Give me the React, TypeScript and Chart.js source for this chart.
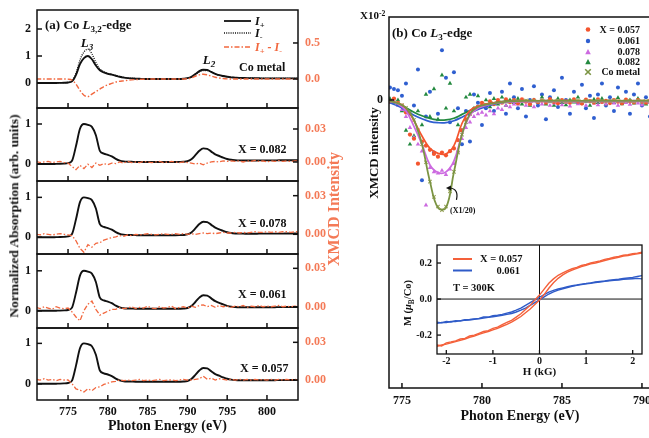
import React, { useEffect, useRef } from "react";
import { Chart, registerables } from "chart.js";

Chart.register(...registerables);

const SERIF = '"Liberation Serif", "Times New Roman", "DejaVu Serif", serif';
const BLACK = "#111111";
const ORANGE = "#f2683f";
const ORANGE_TXT = "#f47a57";
const C57 = "#f4552e";
const C61 = "#2f5fd0";
const C78 = "#cc6ae0";
const C82 = "#23893f";
const COMETAL = "#9aa45a";
const COFIT = "#7b9443";
const INSET_OR = "#f4603a";
const INSET_BL = "#2f5bc8";

// ---------------- data: left panels (a) ----------------
const energyLeft = [771, 771.5, 772, 772.5, 773, 773.5, 774, 774.5, 775, 775.5, 776, 776.5, 777, 777.5, 778, 778.5, 779, 779.5, 780, 780.5, 781, 781.5, 782, 782.5, 783, 783.5, 784, 784.5, 785, 785.5, 786, 786.5, 787, 787.5, 788, 788.5, 789, 789.5, 790, 790.5, 791, 791.5, 792, 792.5, 793, 793.5, 794, 794.5, 795, 795.5, 796, 796.5, 797, 797.5, 798, 798.5, 799, 799.5, 800, 800.5, 801, 801.5, 802, 802.5, 803, 803.5, 804];

const coIplus = [0, 0, 0, 0, 0, 0, 0.005, 0.01, 0.02, 0.06,
  0.3, 0.7, 0.92, 1.0, 0.88, 0.65, 0.47, 0.39, 0.34, 0.31,
  0.27, 0.23, 0.2, 0.18, 0.17, 0.16, 0.155, 0.15, 0.15, 0.15,
  0.15, 0.15, 0.15, 0.15, 0.15, 0.15, 0.15, 0.16, 0.18, 0.23,
  0.33, 0.44, 0.49, 0.48, 0.41, 0.34, 0.29, 0.26, 0.23, 0.21,
  0.2, 0.19, 0.185, 0.18, 0.18, 0.175, 0.175, 0.17, 0.17, 0.17,
  0.17, 0.17, 0.17, 0.17, 0.17, 0.17, 0.17];

const coIminus = [0, 0, 0, 0, 0, 0, 0.005, 0.01, 0.02, 0.07,
  0.36, 0.85, 1.15, 1.25, 1.08, 0.76, 0.52, 0.42, 0.36, 0.32,
  0.28, 0.24, 0.21, 0.19, 0.175, 0.165, 0.158, 0.153, 0.15, 0.15,
  0.15, 0.15, 0.15, 0.15, 0.15, 0.15, 0.15, 0.16, 0.18, 0.22,
  0.31, 0.41, 0.46, 0.46, 0.4, 0.34, 0.29, 0.26, 0.23, 0.21,
  0.2, 0.19, 0.185, 0.18, 0.18, 0.175, 0.175, 0.17, 0.17, 0.17,
  0.17, 0.17, 0.17, 0.17, 0.17, 0.17, 0.17];

const coXmcd = [0, 0, 0, 0, 0, 0, 0, 0, -0.002, -0.015,
  -0.07, -0.16, -0.225, -0.245, -0.21, -0.175, -0.14, -0.105, -0.08, -0.062,
  -0.042, -0.032, -0.026, -0.018, -0.012, -0.008, -0.005, -0.003, -0.001, 0,
  0, 0, 0, 0, 0, 0, 0, 0, 0.004, 0.015,
  0.038, 0.058, 0.066, 0.058, 0.04, 0.024, 0.013, 0.006, 0.002, 0,
  0, 0, 0, 0, 0, 0, 0, 0, 0, 0,
  0, 0, 0, 0, 0, 0, 0];

const absDoped = [0, 0, 0, 0, 0, 0.003, 0.005, 0.01, 0.02, 0.08,
  0.45, 0.88, 1.0, 0.98, 0.93, 0.72, 0.33, 0.26, 0.23, 0.19,
  0.13, 0.085, 0.065, 0.058, 0.055, 0.052, 0.05, 0.05, 0.05, 0.05,
  0.05, 0.05, 0.05, 0.05, 0.05, 0.05, 0.052, 0.056, 0.07, 0.12,
  0.22, 0.33, 0.39, 0.38, 0.31, 0.24, 0.2, 0.16, 0.125, 0.105,
  0.095, 0.09, 0.09, 0.088, 0.088, 0.088, 0.09, 0.09, 0.09, 0.09,
  0.09, 0.092, 0.092, 0.094, 0.094, 0.095, 0.095];

const xmcd082 = [0.0005, -0.0005, 0.0, 0.0005, -0.0005, 0.0, 0.0005, -0.0005, -0.001, -0.004,
  -0.007, -0.003, -0.006, -0.002, -0.005, -0.001, -0.003, -0.0015, -0.0025, -0.001,
  -0.0015, 0.0, -0.001, 0.0005, -0.0005, 0.0, -0.0005, 0.0005, 0.0, -0.0005,
  0.0, 0.0005, -0.0005, 0.0, 0.0005, 0.0, -0.0005, 0.0, -0.0005, -0.001,
  -0.002, -0.001, -0.0025, -0.001, 0.0, 0.0005, 0.0, 0.001, 0.0005, 0.001,
  0.0005, 0.001, 0.0, 0.001, 0.0005, 0.0015, 0.0005, 0.001, 0.0, 0.001,
  0.0005, 0.0015, 0.0005, 0.001, 0.0005, 0.001, 0.001];

const xmcd078 = [0.0, -0.0005, 0.0005, 0.0, -0.0005, 0.0, 0.0005, 0.0, -0.0005, -0.001,
  -0.005, -0.011, -0.014, -0.008, -0.01, -0.007, -0.0065, -0.0045, -0.0035, -0.0025,
  -0.002, -0.001, -0.0015, -0.0005, -0.001, 0.0, -0.0005, 0.0, 0.0005, 0.0,
  -0.0005, 0.0, 0.0005, 0.0, 0.0, 0.0005, 0.0, 0.0005, 0.0, 0.0005,
  0.0, 0.0005, 0.001, 0.0005, 0.001, 0.0005, 0.001, 0.0015, 0.001, 0.001,
  0.0015, 0.001, 0.0015, 0.001, 0.0015, 0.002, 0.0015, 0.0015, 0.002, 0.0015,
  0.002, 0.0015, 0.002, 0.002, 0.0015, 0.002, 0.002];

const xmcd061 = [-0.0005, -0.0015, 0.0, -0.001, -0.002, 0.0, -0.001, -0.0015, -0.001, -0.004,
  -0.008, -0.011, -0.003, 0.002, 0.0045, -0.002, -0.0065, -0.005, -0.0035, -0.002,
  -0.002, -0.0005, -0.0015, -0.001, 0.0, -0.0015, -0.0005, -0.001, 0.0005, -0.001,
  -0.0015, 0.0, -0.001, -0.0005, 0.0005, -0.0015, -0.0005, 0.0, -0.001, 0.0005,
  -0.0005, 0.001, 0.0015, 0.0, 0.001, -0.0005, 0.001, 0.0, 0.0005, -0.0005,
  0.0005, 0.0, 0.001, -0.0005, 0.0005, 0.0, 0.001, 0.0, 0.0005, 0.0,
  0.0005, 0.001, 0.0, 0.0005, 0.0, 0.0005, 0.0];

const xmcd057 = [0.0005, 0.0, 0.001, 0.0, 0.0005, -0.0005, 0.0005, 0.0, 0.0, -0.003,
  -0.007, -0.008, -0.0095, -0.007, -0.0085, -0.006, -0.0055, -0.0035, -0.0025, -0.0015,
  -0.001, 0.0, -0.0005, 0.0, -0.0005, 0.0, 0.0005, -0.0005, 0.0, -0.0005,
  0.0, 0.0005, -0.0005, 0.0, 0.0, -0.0005, 0.0, 0.0005, 0.0, 0.0,
  0.0005, 0.001, 0.003, 0.0005, 0.0015, 0.0, 0.001, 0.0005, 0.0, 0.0005,
  0.0, 0.0005, 0.0, 0.0005, 0.0, 0.0005, 0.0, 0.0005, 0.0, 0.0005,
  0.0, 0.0005, 0.0, 0.0005, 0.0, 0.0005, 0.0];

const xmcdDoped = [xmcd082, xmcd078, xmcd061, xmcd057];
const dopedLabels = ["X = 0.082", "X = 0.078", "X = 0.061", "X = 0.057"];

const leftXTicks = [775, 780, 785, 790, 795, 800];
const leftXRange = [771.1, 803.9];
const p1YTicks = [0, 1, 2];
const p1Y2Ticks = [0, 0.5];
const pYTicks = [0, 1];
const pY2Ticks = [0, 0.03];

// axis ranges for the five stacked panels
const leftRanges = [
  { y: [-0.926, 2.704], y2: [-0.403, 0.958] },
  { y: [-0.425, 1.4], y2: [-0.0173, 0.0491] },
  { y: [-0.42, 1.41], y2: [-0.0153, 0.0414] },
  { y: [-0.43, 1.42], y2: [-0.0166, 0.0412] },
  { y: [-0.4, 1.38], y2: [-0.0159, 0.0414] },
];

// ---------------- data: right panel (b) ----------------
const energyRight = [774.25, 774.5, 774.75, 775, 775.25, 775.5, 775.75, 776, 776.25, 776.5, 776.75, 777, 777.25, 777.5, 777.75, 778, 778.25, 778.5, 778.75, 779, 779.25, 779.5, 779.75, 780, 780.25, 780.5, 780.75, 781, 781.25, 781.5, 781.75, 782, 782.25, 782.5, 782.75, 783, 783.25, 783.5, 783.75, 784, 784.25, 784.5, 784.75, 785, 785.25, 785.5, 785.75, 786, 786.25, 786.5, 786.75, 787, 787.25, 787.5, 787.75, 788, 788.25, 788.5, 788.75, 789, 789.25, 789.5, 789.75, 790, 790.25, 790.5];

const pts057 = [-0.05, 0.05, -0.1, -0.2, -0.45, -1.25, -1.4, -2.3, -1.5, -1.65, -1.8, -1.95, -2.05, -1.9, -2.0, -1.85, -1.75, -1.45, -1.1, -0.7, -0.5, -0.35, -0.25, -0.1, -0.2, -0.05, -0.15, 0.0, -0.1, 0.02, -0.08, 0.0,
  -0.12, 0.02, -0.06, -0.15, 0.0, -0.08, -0.02, -0.1, 0.03, -0.07, -0.12, 0.0, -0.05, -0.1, 0.02, -0.06, -0.13, 0.01, -0.04, -0.1, 0.02, -0.07, -0.03, -0.11, 0.0, -0.06, -0.12, 0.01, -0.05, -0.09, 0.0, -0.06, -0.1, -0.02];

const pts061 = [0.45, 0.4, 0.35, 0.15, 0.6, -0.5, -0.2, 1.1, -2.9, -0.6, 0.3, -1.9, -0.5, 1.8, 0.8, -0.8, 1.0, -0.3, -1.6, -0.4, -1.5, 0.2, -0.1, -0.9, -0.3, 0.25, -0.4, -0.1, 0.3, -0.5, 0.6, 0.1,
  -0.3, 0.4, -0.6, 0.0, 0.5, -0.2, 0.2, -0.7, 0.1, 0.35, -0.25, 0.8, 0.0, -0.5, 0.3, -0.1, 0.55, -0.3, 0.15, -0.65, 0.2, 0.6, -0.2, 0.1, -0.4, 0.45, -0.1, 0.3, -0.5, 0.2, 0.6, -0.2, 0.1, -0.6];

const pts078 = [-0.1, -0.05, -0.2, -0.35, -0.6, -1.0, -1.35, -1.6, -1.85, -3.8, -2.45, -2.6, -2.65, -2.55, -2.7, -2.5, -2.3, -1.85, -1.4, -1.0, -0.8, -0.6, -0.5, -0.45, -0.55, -0.4, -0.5, -0.3, -0.35, -0.2, -0.25, -0.15,
  -0.15, -0.05, -0.2, -0.1, -0.25, -0.08, -0.15, -0.05, -0.2, -0.12, -0.05, -0.18, -0.1, -0.22, -0.06, -0.14, -0.1, -0.2, -0.05, -0.12, -0.18, -0.08, -0.15, -0.03, -0.12, -0.2, -0.07, -0.1, -0.16, -0.05, -0.12, -0.18, -0.08, -0.1];

const pts082 = [0.05, -0.1, 0.0, -0.4, -1.1, -1.6, -1.3, -0.4, -0.9, 0.2, -0.6, 0.4, -0.7, 0.9, -0.3, 0.6, -0.4, -0.9, -1.1, 0.1, 0.2, -0.3, 0.15, -0.2, 0.0, -0.25, 0.05, -0.15, 0.1, -0.2, 0.0, -0.1,
  0.05, -0.15, -0.05, -0.2, 0.0, -0.1, 0.1, -0.15, -0.05, -0.2, 0.05, -0.1, -0.18, 0.0, -0.08, 0.1, -0.12, -0.05, -0.2, 0.02, -0.1, 0.05, -0.15, -0.02, -0.1, 0.08, -0.14, -0.05, 0.0, -0.12, 0.05, -0.08, -0.15, 0.0];

// Co metal, scaled x1/20
const ptsCo = [-0.05, -0.08, -0.12, -0.18, -0.28, -0.45, -0.72, -1.1, -1.6, -2.25, -2.95, -3.5, -3.85, -3.98, -3.85, -3.3, -2.6, -1.9, -1.25, -0.8, -0.5, -0.33, -0.25, -0.2, -0.17, -0.14, -0.12, -0.1, -0.08, -0.06, -0.05, -0.04,
  -0.03, -0.05, -0.02, -0.04, -0.03, -0.06, -0.02, -0.04, -0.05, -0.03, -0.02, -0.04, -0.06, -0.03, -0.04, -0.02, -0.05, -0.03, -0.04, -0.06, -0.02, -0.03, -0.05, -0.04, -0.02, -0.03, -0.05, -0.04, -0.03, -0.06, -0.02, -0.04, -0.03, -0.05];

const energyFit = [774.25, 774.75, 775.25, 775.75, 776.25, 776.75, 777.25, 777.75, 778.25, 778.75, 779.25, 779.75, 780.25, 780.75, 781.25, 781.75, 782.25, 782.75, 783.25, 783.75, 784.25, 784.75, 785.25, 785.75, 786.25, 786.75, 787.25, 787.75, 788.25, 788.75, 789.25, 789.75, 790.25, 790.75];

const fit057 = [-0.05, -0.12, -0.3, -0.75, -1.3, -1.75, -1.93, -1.95, -1.65, -0.85, -0.38, -0.22, -0.15, -0.1, -0.07, -0.05, -0.04,
  -0.04, -0.04, -0.04, -0.04, -0.04, -0.04, -0.04, -0.04, -0.04, -0.04, -0.04, -0.04, -0.04, -0.04, -0.04, -0.04, -0.04];
const fit078 = [-0.05, -0.15, -0.4, -0.95, -1.6, -2.35, -2.62, -2.6, -2.2, -1.25, -0.55, -0.3, -0.2, -0.13, -0.09, -0.07, -0.06,
  -0.06, -0.06, -0.05, -0.05, -0.05, -0.05, -0.05, -0.05, -0.05, -0.05, -0.05, -0.05, -0.05, -0.05, -0.05, -0.05, -0.05];
const fit061 = [-0.1, -0.22, -0.38, -0.55, -0.68, -0.78, -0.82, -0.82, -0.75, -0.62, -0.48, -0.34, -0.24, -0.15, -0.09, -0.06, -0.04,
  -0.03, -0.03, -0.03, -0.03, -0.03, -0.03, -0.03, -0.03, -0.03, -0.03, -0.03, -0.03, -0.03, -0.03, -0.03, -0.03, -0.03];
const fit082 = [-0.06, -0.15, -0.28, -0.44, -0.57, -0.67, -0.72, -0.72, -0.66, -0.52, -0.38, -0.25, -0.16, -0.1, -0.06, -0.04, -0.03,
  -0.03, -0.03, -0.03, -0.03, -0.03, -0.03, -0.03, -0.03, -0.03, -0.03, -0.03, -0.03, -0.03, -0.03, -0.03, -0.03, -0.03];
const fitCo = [-0.05, -0.12, -0.28, -0.72, -1.6, -2.95, -3.9, -3.9, -2.6, -1.25, -0.5, -0.25, -0.17, -0.12, -0.08, -0.05, -0.04,
  -0.035, -0.035, -0.035, -0.035, -0.035, -0.035, -0.035, -0.035, -0.035, -0.035, -0.035, -0.035, -0.035, -0.035, -0.035, -0.035, -0.035];

const rightXTicks = [775, 780, 785, 790];
const rightYTicks = [0];
const rightXRange = [774.19, 790.565];
const rightYRange = [-10.41, 3.0];
const arrowTip = { x: 777.75, y: -3.18 };

// ---------------- data: inset M(H) ----------------
const fieldH = [-2.2, -2.1, -2.0, -1.9, -1.8, -1.7, -1.6, -1.5, -1.4, -1.3, -1.2, -1.1, -1.0, -0.9, -0.8, -0.7, -0.6, -0.5, -0.4, -0.3, -0.2, -0.1, 0, 0.1, 0.2, 0.3, 0.4, 0.5, 0.6, 0.7, 0.8, 0.9, 1.0, 1.1, 1.2, 1.3, 1.4, 1.5, 1.6, 1.7, 1.8, 1.9, 2.0, 2.1, 2.2];

const m057Upper = [-0.255, -0.26, -0.243, -0.238, -0.232, -0.222, -0.218, -0.205, -0.2, -0.19, -0.18, -0.175, -0.163, -0.156, -0.142, -0.13, -0.118, -0.1, -0.082, -0.058, -0.035, -0.005, 0.022, 0.055, 0.088, 0.112, 0.132, 0.145, 0.158, 0.168, 0.176, 0.186, 0.192, 0.2, 0.206, 0.212, 0.22, 0.225, 0.232, 0.236, 0.243, 0.246, 0.252, 0.255, 0.26];
const m057Lower = [-0.262, -0.255, -0.25, -0.243, -0.236, -0.229, -0.222, -0.212, -0.206, -0.196, -0.188, -0.18, -0.171, -0.163, -0.151, -0.14, -0.128, -0.113, -0.097, -0.076, -0.055, -0.03, -0.006, 0.025, 0.06, 0.09, 0.115, 0.134, 0.149, 0.161, 0.17, 0.18, 0.187, 0.195, 0.2, 0.207, 0.214, 0.221, 0.226, 0.232, 0.238, 0.242, 0.247, 0.251, 0.255];
const m061Upper = [-0.128, -0.132, -0.125, -0.127, -0.12, -0.122, -0.115, -0.113, -0.11, -0.107, -0.1, -0.1, -0.093, -0.09, -0.085, -0.078, -0.072, -0.062, -0.05, -0.035, -0.02, -0.005, 0.01, 0.025, 0.038, 0.048, 0.056, 0.062, 0.068, 0.074, 0.078, 0.083, 0.086, 0.09, 0.095, 0.098, 0.1, 0.104, 0.108, 0.11, 0.114, 0.117, 0.12, 0.125, 0.13];
const m061Lower = [-0.135, -0.13, -0.13, -0.125, -0.125, -0.12, -0.118, -0.116, -0.112, -0.11, -0.105, -0.102, -0.098, -0.095, -0.09, -0.085, -0.08, -0.072, -0.062, -0.05, -0.035, -0.02, -0.005, 0.012, 0.028, 0.04, 0.05, 0.057, 0.064, 0.07, 0.076, 0.08, 0.084, 0.088, 0.092, 0.095, 0.098, 0.101, 0.104, 0.106, 0.109, 0.111, 0.113, 0.115, 0.112];

const insetXTicks = [-2, -1, 0, 1, 2];
const insetYTicks = [-0.2, 0, 0.2];
const insetXRange = [-2.2, 2.2];
const insetYRange = [-0.305, 0.3];

// ---------------- helpers ----------------
const DASHDOT = [5, 2, 1.5, 2];
const tickFont = { family: SERIF, size: 12, weight: "bold" as const };

function xy(xs: number[], ys: number[]) {
  return xs.map((x, i) => ({ x, y: ys[i] }));
}

function lineDs(xs: number[], ys: number[], color: string, width: number, dash: number[], axis: string, order: number, smooth: string) {
  return {
    data: xy(xs, ys),
    borderColor: color,
    backgroundColor: color,
    borderWidth: width,
    borderDash: dash,
    showLine: true,
    pointRadius: 0,
    pointHoverRadius: 0,
    tension: smooth === "none" ? 0 : 0.4,
    cubicInterpolationMode: smooth === "mono" ? "monotone" : "default",
    yAxisID: axis,
    order,
    fill: false,
  };
}

function ptDs(xs: number[], ys: number[], color: string, style: string, r: number, order: number) {
  const cross = style === "crossRot";
  return {
    data: xy(xs, ys),
    showLine: false,
    pointStyle: style,
    pointRadius: r,
    pointHoverRadius: r,
    pointBackgroundColor: color,
    pointBorderColor: color,
    pointBorderWidth: cross ? 1.1 : 0,
    borderColor: color,
    backgroundColor: color,
    order,
  };
}

function fixedTicks(vals: number[]) {
  return (s: any) => {
    s.ticks = vals.map((v) => ({ value: v }));
  };
}

function drawMarker(ctx: CanvasRenderingContext2D, style: string, x: number, y: number, r: number, color: string) {
  ctx.save();
  ctx.fillStyle = color;
  ctx.strokeStyle = color;
  ctx.setLineDash([]);
  if (style === "circle") {
    ctx.beginPath();
    ctx.arc(x, y, r, 0, Math.PI * 2);
    ctx.fill();
  } else if (style === "triangle") {
    ctx.beginPath();
    ctx.moveTo(x, y - r * 1.1);
    ctx.lineTo(x + r, y + r * 0.8);
    ctx.lineTo(x - r, y + r * 0.8);
    ctx.closePath();
    ctx.fill();
  } else {
    ctx.lineWidth = 1.6;
    ctx.beginPath();
    ctx.moveTo(x - r, y - r);
    ctx.lineTo(x + r, y + r);
    ctx.moveTo(x + r, y - r);
    ctx.lineTo(x - r, y + r);
    ctx.stroke();
  }
  ctx.restore();
}

function framePlugin(cfg: any) {
  return {
    id: "frameTicks",
    beforeDraw(chart: any) {
      if (!cfg.bg) return;
      const a = chart.chartArea;
      const ctx = chart.ctx;
      ctx.save();
      ctx.fillStyle = cfg.bg;
      ctx.fillRect(a.left, a.top, a.right - a.left, a.bottom - a.top);
      ctx.restore();
    },
    beforeDatasetsDraw(chart: any) {
      if (!cfg.zero) return;
      const a = chart.chartArea;
      const ctx = chart.ctx;
      const x0 = chart.scales.x.getPixelForValue(0);
      const y0 = chart.scales.y.getPixelForValue(0);
      ctx.save();
      ctx.strokeStyle = BLACK;
      ctx.lineWidth = 1;
      ctx.beginPath();
      ctx.moveTo(x0, a.top);
      ctx.lineTo(x0, a.bottom);
      ctx.moveTo(a.left, y0);
      ctx.lineTo(a.right, y0);
      ctx.stroke();
      ctx.restore();
    },
    afterDraw(chart: any) {
      const a = chart.chartArea;
      const ctx = chart.ctx;
      ctx.save();
      ctx.strokeStyle = BLACK;
      ctx.lineWidth = cfg.lw || 1.5;
      ctx.setLineDash([]);
      ctx.strokeRect(a.left, a.top, a.right - a.left, a.bottom - a.top);
      const len = cfg.tickLen || 5;
      for (const t of cfg.ticks || []) {
        const s = chart.scales[t.scale];
        for (const tk of s.ticks) {
          const p = s.getPixelForValue(tk.value);
          ctx.beginPath();
          if (t.edge === "bottom") {
            ctx.moveTo(p, a.bottom);
            ctx.lineTo(p, a.bottom - len);
          } else if (t.edge === "left") {
            ctx.moveTo(a.left, p);
            ctx.lineTo(a.left + len, p);
          } else if (t.edge === "right") {
            ctx.moveTo(a.right, p);
            ctx.lineTo(a.right - len, p);
          }
          ctx.stroke();
        }
      }
      // legend swatches (page coords -> canvas coords)
      for (const sw of cfg.swatches || []) {
        if (sw.k === "line") {
          ctx.save();
          ctx.strokeStyle = sw.color;
          ctx.lineWidth = sw.w;
          ctx.setLineDash(sw.dash || []);
          ctx.beginPath();
          ctx.moveTo(sw.x1 - cfg.ox, sw.y - cfg.oy);
          ctx.lineTo(sw.x2 - cfg.ox, sw.y - cfg.oy);
          ctx.stroke();
          ctx.restore();
        } else {
          drawMarker(ctx, sw.style, sw.x - cfg.ox, sw.y - cfg.oy, sw.r, sw.color);
        }
      }
      // curved arrow pointing at the Co metal curve
      if (cfg.arrow) {
        const tx = chart.scales.x.getPixelForValue(cfg.arrow.x);
        const ty = chart.scales.y.getPixelForValue(cfg.arrow.y);
        ctx.strokeStyle = BLACK;
        ctx.fillStyle = BLACK;
        ctx.lineWidth = 1.2;
        ctx.beginPath();
        ctx.moveTo(tx + 10.5, ty + 12);
        ctx.quadraticCurveTo(tx + 13, ty + 1, tx + 4, ty);
        ctx.stroke();
        ctx.beginPath();
        ctx.moveTo(tx, ty);
        ctx.lineTo(tx + 5, ty - 2.6);
        ctx.lineTo(tx + 5, ty + 2.6);
        ctx.closePath();
        ctx.fill();
      }
      ctx.restore();
    },
  };
}

const baseOpts = {
  animation: false as const,
  responsive: false,
  devicePixelRatio: 1,
  events: [] as any[],
  plugins: { legend: { display: false }, tooltip: { enabled: false } },
};

function hiddenGrid() {
  return { grid: { display: false, drawTicks: false }, border: { display: false } };
}

// ---------------- chart configs ----------------
const LEFT_TOPS = [10, 108, 181, 254, 328, 400];
const PAD = 16;

function leftConfig(k: number): any {
  const last = k === 4;
  const r = leftRanges[k];
  const top = LEFT_TOPS[k];
  const datasets = k === 0
    ? [
        lineDs(energyLeft, coXmcd, ORANGE, 1.4, DASHDOT, "y2", 0, "mono"),
        lineDs(energyLeft, coIplus, BLACK, 1.9, [], "y", 1, "mono"),
        lineDs(energyLeft, coIminus, BLACK, 1.3, [1, 1.2], "y", 2, "mono"),
      ]
    : [
        lineDs(energyLeft, xmcdDoped[k - 1], ORANGE, 1.3, DASHDOT, "y2", 0, "none"),
        lineDs(energyLeft, absDoped, BLACK, 1.9, [], "y", 1, "mono"),
      ];
  const swatches = k === 0
    ? [
        { k: "line", x1: 224, x2: 251, y: 21, color: BLACK, w: 1.8, dash: [] },
        { k: "line", x1: 224, x2: 251, y: 33, color: BLACK, w: 1.4, dash: [1, 1.2] },
        { k: "line", x1: 224, x2: 251, y: 47, color: ORANGE, w: 1.5, dash: DASHDOT },
      ]
    : [];
  return {
    type: "scatter",
    data: { datasets },
    options: {
      ...baseOpts,
      layout: { padding: { top: PAD, bottom: last ? 0 : PAD, left: 0, right: 0 } },
      scales: {
        x: {
          type: "linear",
          bounds: "data",
          min: leftXRange[0],
          max: leftXRange[1],
          ...hiddenGrid(),
          afterBuildTicks: fixedTicks(leftXTicks),
          afterFit: (s: any) => { s.height = last ? 38 : 0; },
          ticks: { display: last, font: tickFont, color: BLACK, padding: 5, autoSkip: false, maxRotation: 0, callback: (v: any) => String(v) },
          title: { display: last, text: "Photon Energy (eV)", font: { family: SERIF, size: 14, weight: "bold" }, color: BLACK, padding: { top: 0, bottom: 3 } },
        },
        y: {
          type: "linear",
          position: "left",
          bounds: "data",
          min: r.y[0],
          max: r.y[1],
          ...hiddenGrid(),
          afterBuildTicks: fixedTicks(k === 0 ? p1YTicks : pYTicks),
          afterFit: (s: any) => { s.width = 37; },
          ticks: { font: tickFont, color: BLACK, padding: 6, autoSkip: false, callback: (v: any) => String(v) },
        },
        y2: {
          type: "linear",
          position: "right",
          bounds: "data",
          min: r.y2[0],
          max: r.y2[1],
          ...hiddenGrid(),
          afterBuildTicks: fixedTicks(k === 0 ? p1Y2Ticks : pY2Ticks),
          afterFit: (s: any) => { s.width = 47; },
          ticks: { font: tickFont, color: ORANGE_TXT, padding: 7, autoSkip: false, callback: (v: any) => Number(v).toFixed(k === 0 ? 1 : 2) },
        },
      },
    },
    plugins: [
      framePlugin({
        lw: 1.5,
        tickLen: 5,
        ox: 0,
        oy: top - PAD,
        ticks: [
          { scale: "x", edge: "bottom" },
          { scale: "y", edge: "left" },
          { scale: "y2", edge: "right" },
        ],
        swatches,
      }),
    ],
  };
}

function rightConfig(): any {
  return {
    type: "scatter",
    data: {
      datasets: [
        lineDs(energyFit, fitCo, COFIT, 1.8, [], "y", 0, "bez"),
        lineDs(energyFit, fit078, C78, 1.7, [], "y", 1, "bez"),
        lineDs(energyFit, fit057, C57, 1.7, [], "y", 2, "bez"),
        lineDs(energyFit, fit061, C61, 1.7, [], "y", 3, "bez"),
        lineDs(energyFit, fit082, C82, 1.7, [], "y", 4, "bez"),
        ptDs(energyRight, ptsCo, COMETAL, "crossRot", 2.4, 5),
        ptDs(energyRight, pts057, C57, "circle", 2.1, 6),
        ptDs(energyRight, pts078, C78, "triangle", 2.6, 7),
        ptDs(energyRight, pts082, C82, "triangle", 2.6, 8),
        ptDs(energyRight, pts061, C61, "circle", 2.0, 9),
      ],
    },
    options: {
      ...baseOpts,
      layout: { padding: { top: 17, right: 49, bottom: 0, left: 0 } },
      scales: {
        x: {
          type: "linear",
          bounds: "data",
          min: rightXRange[0],
          max: rightXRange[1],
          ...hiddenGrid(),
          afterBuildTicks: fixedTicks(rightXTicks),
          afterFit: (s: any) => { s.height = 50; },
          ticks: { font: tickFont, color: BLACK, padding: 6, autoSkip: false, maxRotation: 0, callback: (v: any) => String(v) },
          title: { display: true, text: "Photon Energy (eV)", font: { family: SERIF, size: 14, weight: "bold" }, color: BLACK, padding: { top: 0, bottom: 13 } },
        },
        y: {
          type: "linear",
          position: "left",
          bounds: "data",
          min: rightYRange[0],
          max: rightYRange[1],
          ...hiddenGrid(),
          afterBuildTicks: fixedTicks(rightYTicks),
          afterFit: (s: any) => { s.width = 34; },
          ticks: { font: tickFont, color: BLACK, padding: 6, callback: (v: any) => String(v) },
        },
      },
    },
    plugins: [
      framePlugin({
        lw: 1.5,
        tickLen: 5,
        ox: 355,
        oy: 0,
        ticks: [
          { scale: "x", edge: "bottom" },
          { scale: "y", edge: "left" },
        ],
        swatches: [
          { k: "pt", style: "circle", x: 588, y: 29.5, r: 2.3, color: C57 },
          { k: "pt", style: "circle", x: 588, y: 41, r: 2.2, color: C61 },
          { k: "pt", style: "triangle", x: 588, y: 52, r: 2.8, color: C78 },
          { k: "pt", style: "triangle", x: 588, y: 62, r: 2.8, color: C82 },
          { k: "pt", style: "cross", x: 588, y: 72, r: 2.8, color: COFIT },
        ],
        arrow: arrowTip,
      }),
    ],
  };
}

const INSET_TOP = 231;

function insetConfig(): any {
  return {
    type: "scatter",
    data: {
      datasets: [
        lineDs(fieldH, m057Upper, INSET_OR, 1.4, [], "y", 0, "none"),
        lineDs(fieldH, m057Lower, INSET_OR, 1.4, [], "y", 1, "none"),
        lineDs(fieldH, m061Upper, INSET_BL, 1.4, [], "y", 2, "none"),
        lineDs(fieldH, m061Lower, INSET_BL, 1.4, [], "y", 3, "none"),
      ],
    },
    options: {
      ...baseOpts,
      layout: { padding: { top: 14, right: 18, bottom: 0, left: 0 } },
      scales: {
        x: {
          type: "linear",
          bounds: "data",
          min: insetXRange[0],
          max: insetXRange[1],
          ...hiddenGrid(),
          afterBuildTicks: fixedTicks(insetXTicks),
          afterFit: (s: any) => { s.height = 26; },
          ticks: { font: { family: SERIF, size: 10, weight: "bold" }, color: BLACK, padding: 1, autoSkip: false, maxRotation: 0, callback: (v: any) => String(v) },
          title: { display: true, text: "H (kG)", font: { family: SERIF, size: 11, weight: "bold" }, color: BLACK, padding: { top: 0, bottom: 1 } },
        },
        y: {
          type: "linear",
          position: "left",
          bounds: "data",
          min: insetYRange[0],
          max: insetYRange[1],
          ...hiddenGrid(),
          afterBuildTicks: fixedTicks(insetYTicks),
          afterFit: (s: any) => { s.width = 37; },
          ticks: { font: { family: SERIF, size: 10, weight: "bold" }, color: BLACK, padding: 5, autoSkip: false, callback: (v: any) => Number(v).toFixed(1) },
        },
      },
    },
    plugins: [
      framePlugin({
        lw: 1.3,
        tickLen: 4,
        ox: 400,
        oy: INSET_TOP,
        bg: "#ffffff",
        zero: true,
        ticks: [
          { scale: "x", edge: "bottom" },
          { scale: "y", edge: "left" },
        ],
        swatches: [
          { k: "line", x1: 453, x2: 472, y: 259, color: INSET_OR, w: 2, dash: [] },
          { k: "line", x1: 453, x2: 472, y: 270.5, color: INSET_BL, w: 2, dash: [] },
        ],
      }),
    ],
  };
}

// ---------------- components ----------------
function ChartBox({ left, top, width, height, make }: { left: number; top: number; width: number; height: number; make: () => any }) {
  const ref = useRef<HTMLCanvasElement>(null);
  useEffect(() => {
    const chart = new Chart(ref.current as HTMLCanvasElement, make());
    return () => chart.destroy();
  }, []);
  return <canvas ref={ref} width={width} height={height} style={{ position: "absolute", left, top, width, height }} />;
}

function Txt({ x, y, align = "left", size = 12, color = BLACK, italic = false, rot = 0, children }: any) {
  const tx = align === "left" ? "0" : align === "center" ? "-50%" : "-100%";
  return (
    <div
      style={{
        position: "absolute",
        left: x,
        top: y,
        transform: `translate(${tx}, -50%)` + (rot ? ` rotate(${rot}deg)` : ""),
        fontFamily: SERIF,
        fontWeight: 700,
        fontSize: size,
        color,
        fontStyle: italic ? "italic" : "normal",
        whiteSpace: "nowrap",
        lineHeight: 1,
      }}
    >
      {children}
    </div>
  );
}

const Sub = ({ children }: any) => <span style={{ fontSize: "0.7em", position: "relative", top: "0.35em" }}>{children}</span>;
const Sup = ({ children }: any) => <span style={{ fontSize: "0.7em", position: "relative", top: "-0.45em" }}>{children}</span>;

export default function App() {
  return (
    <div style={{ position: "fixed", left: 0, top: 0, width: 649, height: 438, overflow: "hidden", background: "#ffffff" }}>
      {[0, 1, 2, 3, 4].map((k) => (
        <ChartBox
          key={k}
          left={0}
          top={LEFT_TOPS[k] - PAD}
          width={345}
          height={k === 4 ? 438 - (LEFT_TOPS[k] - PAD) : LEFT_TOPS[k + 1] - LEFT_TOPS[k] + 2 * PAD}
          make={() => leftConfig(k)}
        />
      ))}
      <ChartBox left={355} top={0} width={345} height={438} make={rightConfig} />
      <ChartBox left={400} top={INSET_TOP} width={260} height={380 - INSET_TOP} make={insetConfig} />

      {/* left panel texts */}
      <Txt x={45} y={25} size={13}>(a) Co <i>L</i><Sub>3,2</Sub>-edge</Txt>
      <Txt x={255} y={21} size={12} italic>I<Sub>+</Sub></Txt>
      <Txt x={255} y={33} size={12} italic>I<Sub>-</Sub></Txt>
      <Txt x={255} y={47} size={12} italic color={ORANGE}>I<Sub>+</Sub> - I<Sub>-</Sub></Txt>
      <Txt x={87} y={43} size={13} align="center" italic>L<Sub>3</Sub></Txt>
      <Txt x={209} y={60} size={13} align="center" italic>L<Sub>2</Sub></Txt>
      <Txt x={239} y={67} size={12}>Co metal</Txt>
      <Txt x={238} y={149} size={12}>{dopedLabels[0]}</Txt>
      <Txt x={238} y={223} size={12}>{dopedLabels[1]}</Txt>
      <Txt x={238} y={294} size={12}>{dopedLabels[2]}</Txt>
      <Txt x={240} y={368} size={12}>{dopedLabels[3]}</Txt>
      <Txt x={14} y={216} size={13.5} align="center" rot={-90}>Normalized Absorption (arb. units)</Txt>
      <Txt x={334} y={209} size={16} align="center" rot={-90} color={ORANGE_TXT}>XMCD Intensity</Txt>

      {/* right panel texts */}
      <Txt x={360} y={15} size={11}>X10<Sup>-2</Sup></Txt>
      <Txt x={392} y={33} size={13}>(b) Co <i>L</i><Sub>3</Sub>-edge</Txt>
      <Txt x={373} y={153} size={13} align="center" rot={-90}>XMCD intensity</Txt>
      <Txt x={640} y={29.5} size={10} align="right">X = 0.057</Txt>
      <Txt x={640} y={41} size={10} align="right">0.061</Txt>
      <Txt x={640} y={52} size={10} align="right">0.078</Txt>
      <Txt x={640} y={62} size={10} align="right">0.082</Txt>
      <Txt x={640} y={72} size={10} align="right">Co metal</Txt>
      <Txt x={450} y={211} size={8}>(X1/20)</Txt>

      {/* inset texts */}
      <Txt x={480} y={259} size={10.5}>X = 0.057</Txt>
      <Txt x={520} y={271} size={10.5} align="right">0.061</Txt>
      <Txt x={453} y={288} size={10.5}>T = 300K</Txt>
      <Txt x={408} y={303} size={10.5} align="center" rot={-90}>M (<i>μ</i><Sub>B</Sub>/Co)</Txt>
    </div>
  );
}
